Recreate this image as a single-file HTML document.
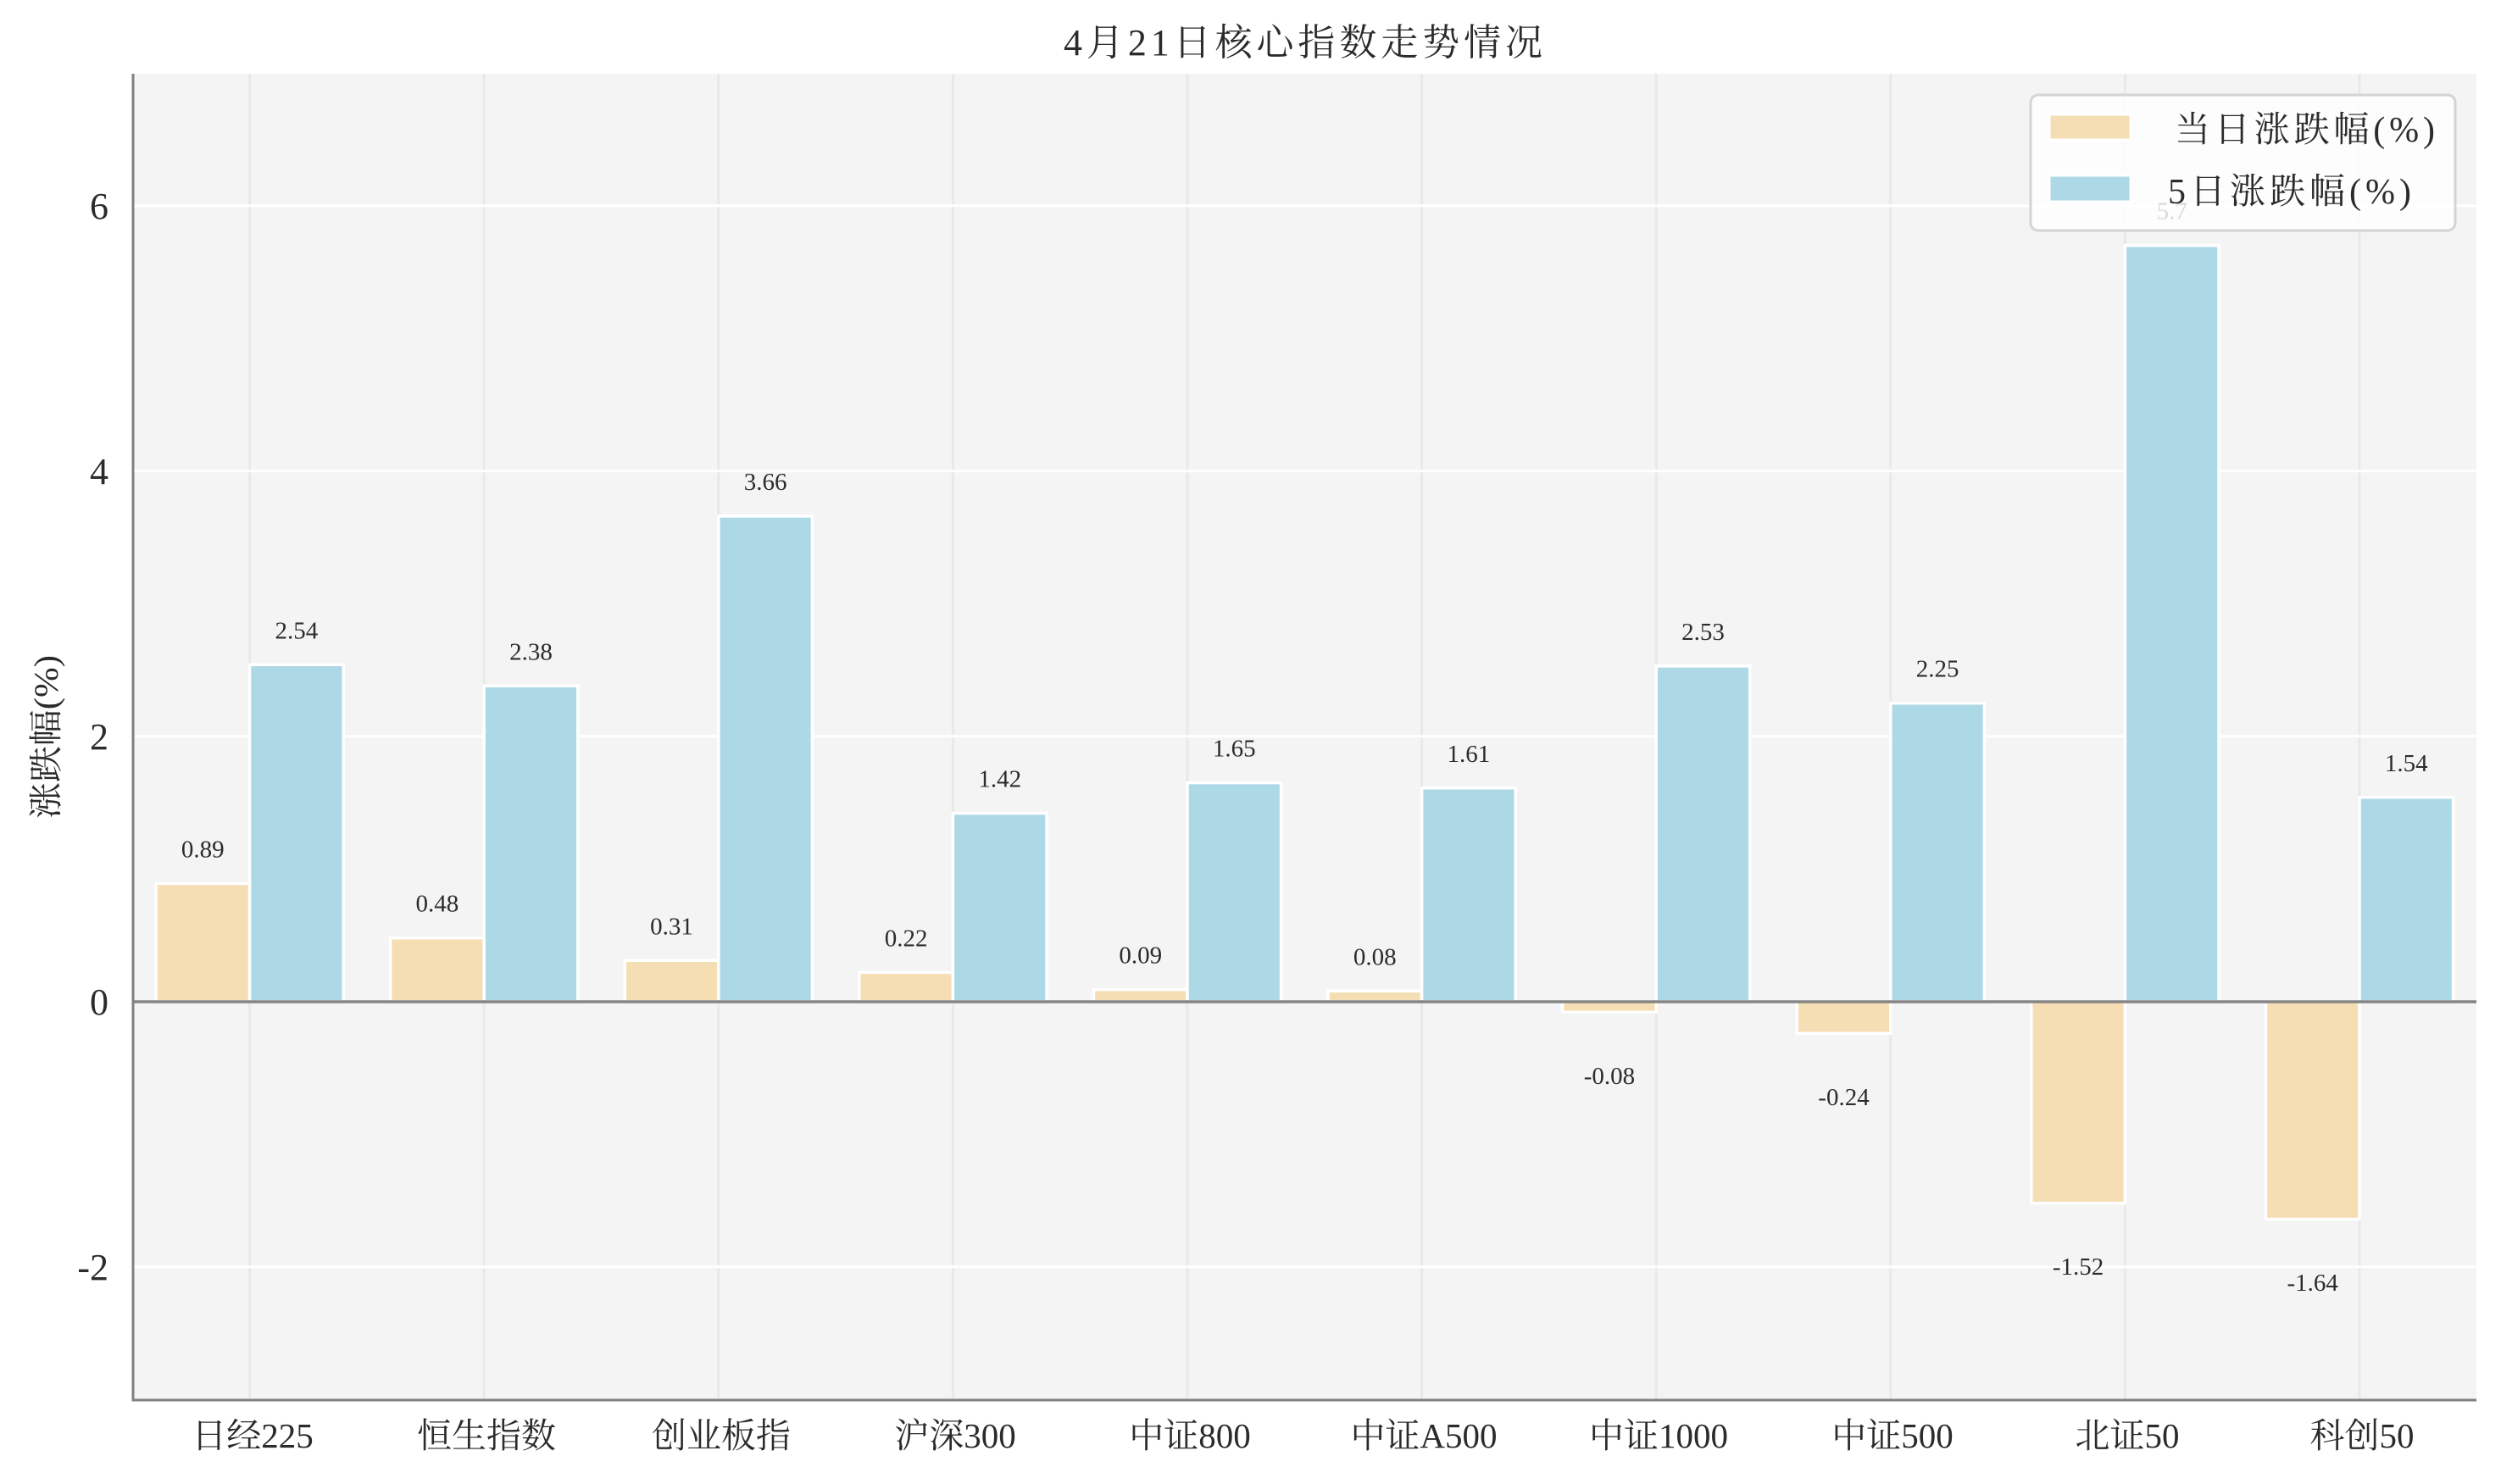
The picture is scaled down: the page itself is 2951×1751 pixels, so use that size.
<!DOCTYPE html>
<html>
<head>
<meta charset="utf-8">
<style>
  html, body { margin: 0; padding: 0; background: #ffffff; }
  svg { display: block; }
  text { font-family: "Liberation Serif", "Noto Serif CJK SC", serif; fill: #2b2b2b; }
</style>
</head>
<body>
<svg width="2951" height="1751" viewBox="0 0 2951 1751" xmlns="http://www.w3.org/2000/svg">
  <rect x="0" y="0" width="2951" height="1751" fill="#ffffff"/>
  <!-- axes background -->
  <rect x="157" y="87" width="2765" height="1565" fill="#f4f4f4"/>

  <!-- vertical grid -->
  <g stroke="#e9e9e9" stroke-width="3">
    <line x1="294.6" y1="87" x2="294.6" y2="1652"/>
    <line x1="571.2" y1="87" x2="571.2" y2="1652"/>
    <line x1="847.8" y1="87" x2="847.8" y2="1652"/>
    <line x1="1124.4" y1="87" x2="1124.4" y2="1652"/>
    <line x1="1401" y1="87" x2="1401" y2="1652"/>
    <line x1="1677.6" y1="87" x2="1677.6" y2="1652"/>
    <line x1="1954.2" y1="87" x2="1954.2" y2="1652"/>
    <line x1="2230.8" y1="87" x2="2230.8" y2="1652"/>
    <line x1="2507.4" y1="87" x2="2507.4" y2="1652"/>
    <line x1="2784" y1="87" x2="2784" y2="1652"/>
  </g>
  <!-- horizontal grid -->
  <g stroke="#ffffff" stroke-width="3">
    <line x1="157" y1="1494.8" x2="2922" y2="1494.8"/>
    <line x1="157" y1="868.8" x2="2922" y2="868.8"/>
    <line x1="157" y1="555.8" x2="2922" y2="555.8"/>
    <line x1="157" y1="242.8" x2="2922" y2="242.8"/>
  </g>

  <!-- bars: 当日 (orange) -->
  <g fill="#f5deb3" stroke="#ffffff" stroke-width="3.5">
    <rect x="184" y="1042.5" width="110.6" height="139.3"/>
    <rect x="460.6" y="1106.7" width="110.6" height="75.1"/>
    <rect x="737.2" y="1133.3" width="110.6" height="48.5"/>
    <rect x="1013.8" y="1147.4" width="110.6" height="34.4"/>
    <rect x="1290.4" y="1167.7" width="110.6" height="14.1"/>
    <rect x="1567" y="1169.3" width="110.6" height="12.5"/>
    <rect x="1843.6" y="1181.8" width="110.6" height="12.5"/>
    <rect x="2120.2" y="1181.8" width="110.6" height="37.6"/>
    <rect x="2396.8" y="1181.8" width="110.6" height="237.9"/>
    <rect x="2673.4" y="1181.8" width="110.6" height="256.7"/>
  </g>
  <!-- bars: 5日 (blue) -->
  <g fill="#add8e6" stroke="#ffffff" stroke-width="3.5">
    <rect x="294.6" y="784.3" width="110.6" height="397.5"/>
    <rect x="571.2" y="809.3" width="110.6" height="372.5"/>
    <rect x="847.8" y="609" width="110.6" height="572.8"/>
    <rect x="1124.4" y="959.6" width="110.6" height="222.2"/>
    <rect x="1401" y="923.6" width="110.6" height="258.2"/>
    <rect x="1677.6" y="929.8" width="110.6" height="252"/>
    <rect x="1954.2" y="785.9" width="110.6" height="395.9"/>
    <rect x="2230.8" y="829.7" width="110.6" height="352.1"/>
    <rect x="2507.4" y="289.7" width="110.6" height="892.1"/>
    <rect x="2784" y="940.8" width="110.6" height="241"/>
  </g>

  <!-- zero line -->
  <line x1="157" y1="1182" x2="2922" y2="1182" stroke="#858585" stroke-width="3.5"/>

  <!-- spines -->
  <line x1="157" y1="87" x2="157" y2="1653.5" stroke="#808080" stroke-width="3"/>
  <line x1="155.5" y1="1652" x2="2922" y2="1652" stroke="#808080" stroke-width="3"/>

  <!-- data labels -->
  <g font-size="29" text-anchor="middle">
    <text x="239.3" y="1011.5">0.89</text>
    <text x="515.9" y="1075.7">0.48</text>
    <text x="792.5" y="1102.3">0.31</text>
    <text x="1069.1" y="1116.4">0.22</text>
    <text x="1345.7" y="1136.7">0.09</text>
    <text x="1622.3" y="1138.3">0.08</text>
    <text x="1898.9" y="1278.8">-0.08</text>
    <text x="2175.5" y="1303.9">-0.24</text>
    <text x="2452.1" y="1504.2">-1.52</text>
    <text x="2728.7" y="1523">-1.64</text>

    <text x="349.9" y="753.3">2.54</text>
    <text x="626.5" y="778.3">2.38</text>
    <text x="903.1" y="578">3.66</text>
    <text x="1179.7" y="928.6">1.42</text>
    <text x="1456.3" y="892.6">1.65</text>
    <text x="1732.9" y="898.8">1.61</text>
    <text x="2009.5" y="754.9">2.53</text>
    <text x="2286.1" y="798.7">2.25</text>
    <text x="2562.7" y="258.7">5.7</text>
    <text x="2839.3" y="909.8">1.54</text>
  </g>

  <!-- y tick labels -->
  <g font-size="44" text-anchor="end">
    <text x="128" y="1509.8">-2</text>
    <text x="128" y="1196.8">0</text>
    <text x="128" y="883.8">2</text>
    <text x="128" y="570.8">4</text>
    <text x="128" y="257.8">6</text>
  </g>

  <!-- x tick labels -->
  <g font-size="41" text-anchor="middle">
    <text x="298" y="1708">日经225</text>
    <text x="574" y="1708">恒生指数</text>
    <text x="851" y="1708">创业板指</text>
    <text x="1127" y="1708">沪深300</text>
    <text x="1404" y="1708">中证800</text>
    <text x="1680" y="1708">中证A500</text>
    <text x="1957" y="1708">中证1000</text>
    <text x="2233" y="1708">中证500</text>
    <text x="2510" y="1708">北证50</text>
    <text x="2787" y="1708">科创50</text>
  </g>

  <!-- y axis label -->
  <text transform="translate(68,869.5) rotate(-90)" x="0" y="0" font-size="40" text-anchor="middle" textLength="193" lengthAdjust="spacingAndGlyphs">涨跌幅(%)</text>

  <!-- title -->
  <text x="1255" y="65" font-size="44" textLength="565" lengthAdjust="spacing">4月21日核心指数走势情况</text>

  <!-- legend -->
  <rect x="2396" y="112" width="501" height="160" rx="9" ry="9" fill="#ffffff" fill-opacity="0.82" stroke="#d4d4d4" stroke-width="3"/>
  <rect x="2418" y="135" width="96" height="30" fill="#f5deb3" stroke="#ffffff" stroke-width="3"/>
  <rect x="2418" y="207" width="96" height="31" fill="#add8e6" stroke="#ffffff" stroke-width="3"/>
  <text x="2566" y="167" font-size="42" textLength="307" lengthAdjust="spacing">当日涨跌幅(%)</text>
  <text x="2558" y="240" font-size="42" textLength="287" lengthAdjust="spacing">5日涨跌幅(%)</text>
</svg>
</body>
</html>
